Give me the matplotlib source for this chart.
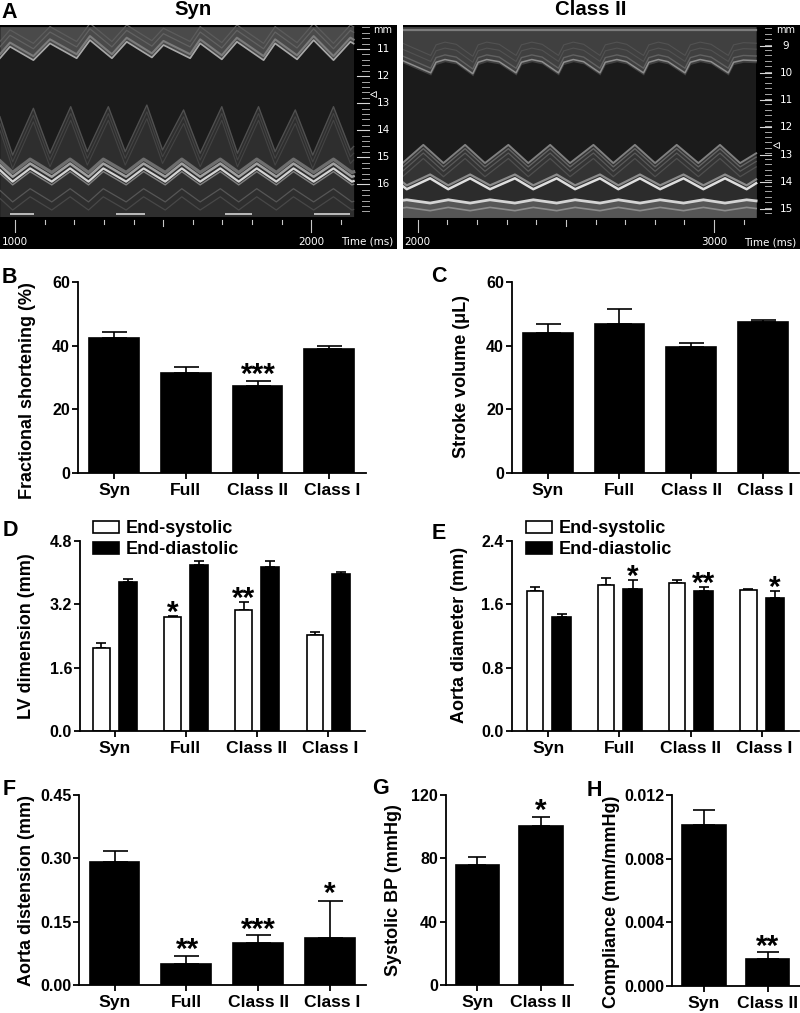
import numpy as np
import matplotlib
matplotlib.use("Agg")
import matplotlib.pyplot as plt
from matplotlib.patches import Patch
from matplotlib.transforms import ScaledTranslation

W, H = 800, 1013
plt.rcParams['font.family'] = ['Liberation Sans', 'DejaVu Sans']
plt.rcParams['font.weight'] = 'bold'
plt.rcParams['mathtext.default'] = 'regular'

four_groups = ["Syn", "Full", "Class II", "Class I"]
two_groups = ["Syn", "Class II"]

# bar heights and tops of the error bars
fs_mean = [42.3, 31.5, 27.3, 38.9]
fs_top = [44.4, 33.4, 28.8, 39.9]
sv_mean = [43.9, 46.7, 39.5, 47.4]
sv_top = [46.8, 51.6, 40.7, 48.0]
lv_sys = [2.10, 2.87, 3.04, 2.43]
lv_sys_top = [2.21, 2.89, 3.25, 2.50]
lv_dia = [3.75, 4.18, 4.14, 3.96]
lv_dia_top = [3.84, 4.29, 4.28, 4.01]
ao_sys = [1.76, 1.84, 1.87, 1.78]
ao_sys_top = [1.815, 1.93, 1.91, 1.79]
ao_dia = [1.44, 1.79, 1.765, 1.68]
ao_dia_top = [1.475, 1.90, 1.815, 1.77]
dist_mean = [0.292, 0.051, 0.099, 0.112]
dist_top = [0.317, 0.069, 0.119, 0.199]
bp_mean = [75.8, 100.4]
bp_top = [80.7, 106.3]
comp_mean = [0.01009, 0.00172]
comp_top = [0.01108, 0.00212]

# M-mode wall traces (time in ms, depth in mm)
syn_ant_ms = [949, 983, 1062, 1118, 1208, 1253, 1327, 1377, 1462, 1501, 1591, 1625, 1698, 1749, 1839, 1878, 1952, 2008, 2075, 2132, 2143]
syn_ant_mm = [11.34, 10.91, 11.41, 10.79, 11.34, 10.67, 11.34, 10.73, 11.31, 10.85, 11.34, 10.79, 11.38, 10.73, 11.41, 10.79, 11.38, 10.67, 11.41, 10.73, 10.80]
syn_post_ms = [949, 992, 1062, 1118, 1188, 1244, 1315, 1372, 1445, 1498, 1569, 1625, 1698, 1751, 1822, 1878, 1946, 2005, 2075, 2132, 2143]
syn_post_mm = [13.50, 14.92, 13.19, 14.85, 13.13, 14.79, 13.13, 14.79, 13.07, 14.73, 13.25, 14.85, 13.13, 14.85, 13.13, 14.79, 13.25, 14.92, 13.13, 14.73, 14.60]
syn_epi_ms = [949, 992, 1051, 1124, 1186, 1248, 1298, 1375, 1434, 1507, 1563, 1625, 1693, 1755, 1816, 1882, 1940, 2008, 2075, 2137, 2143]
syn_epi_mm = [15.47, 15.90, 15.41, 15.90, 15.41, 15.90, 15.41, 15.90, 15.41, 15.90, 15.41, 15.90, 15.41, 15.90, 15.41, 15.90, 15.41, 15.90, 15.41, 15.90, 15.88]
syn_base_start = [983, 1340, 1710, 2010]
syn_base_end = [1063, 1440, 1800, 2130]

cl2_ant_ms = [1949, 2044, 2062, 2092, 2130, 2186, 2204, 2233, 2275, 2332, 2350, 2385, 2420, 2475, 2493, 2525, 2560, 2615, 2633, 2672, 2705, 2762, 2780, 2812, 2845, 2902, 2920, 2953, 2990, 3048, 3066, 3099, 3142]
cl2_ant_mm = [9.62, 10.07, 9.68, 9.58, 9.66, 10.10, 9.68, 9.58, 9.66, 10.07, 9.68, 9.58, 9.66, 10.07, 9.68, 9.58, 9.66, 10.07, 9.68, 9.58, 9.66, 10.07, 9.68, 9.58, 9.66, 10.07, 9.68, 9.58, 9.66, 10.07, 9.68, 9.60, 9.62]
cl2_post_ms = [1949, 2019, 2087, 2160, 2227, 2306, 2373, 2447, 2514, 2593, 2660, 2733, 2801, 2874, 2947, 3020, 3088, 3142]
cl2_post_mm = [13.31, 12.64, 13.31, 12.64, 13.31, 12.64, 13.31, 12.64, 13.31, 12.64, 13.31, 12.64, 13.31, 12.64, 13.31, 12.64, 13.31, 12.95]
cl2_epi_ms = [1949, 1963, 2042, 2103, 2177, 2244, 2328, 2390, 2469, 2531, 2615, 2677, 2750, 2818, 2897, 2964, 3037, 3110, 3142]
cl2_epi_mm = [14.15, 14.27, 13.87, 14.27, 13.87, 14.27, 13.87, 14.27, 13.87, 14.27, 13.87, 14.27, 13.87, 14.27, 13.87, 14.27, 13.87, 14.27, 14.05]
cl2_base_mm = [14.68, 14.66, 14.78, 14.66, 14.78, 14.66, 14.78, 14.66, 14.78, 14.66, 14.78, 14.66, 14.78, 14.66, 14.78, 14.66, 14.78, 14.66, 14.70]


def px_axes(fig, left, right, top, bottom):
    return fig.add_axes([left / W, 1 - bottom / H, (right - left) / W, (bottom - top) / H])


def label(fig, x, y, s, size=13, **kw):
    fig.text(x / W, 1 - y / H, s, fontsize=size, fontweight='bold', **kw)


def bar_axes(fig, box, first, step, ymax, yticks, fmt, names):
    ax = px_axes(fig, *box)
    ax.set_xlim((box[0] - first) / step, (box[1] - first) / step)
    ax.set_ylim(0, ymax)
    ax.set_yticks(yticks)
    ax.set_yticklabels([fmt % t for t in yticks], fontsize=11.5)
    ax.set_xticks(range(len(names)))
    ax.set_xticklabels(names, fontsize=12.6)
    ax.tick_params(axis='both', length=4.2, width=1.3)
    ax.tick_params(axis='x', pad=3)
    ax.tick_params(axis='y', pad=1.5)
    for s in ['top', 'right']:
        ax.spines[s].set_visible(False)
    for s in ['left', 'bottom']:
        ax.spines[s].set_linewidth(1.3)
    if len(names) == 4:
        # the last label sits a little to the right of its tick
        lab = ax.get_xticklabels()[3]
        lab.set_transform(lab.get_transform() + ScaledTranslation(2.5 / 100, 0, fig.dpi_scale_trans))
    return ax


def bars(ax, x, means, tops, width, cap, color='k'):
    x = np.asarray(x, dtype=float)
    means = np.asarray(means)
    up = np.asarray(tops) - means
    ax.errorbar(x, means, yerr=[np.zeros(len(x)), up], fmt='none', ecolor='k',
                elinewidth=1.2, capsize=cap, capthick=1.2, zorder=1)
    ax.bar(x, means, width, color=color, edgecolor='k', linewidth=1.2, zorder=2)


def stars(ax, x, y, s):
    ax.annotate(s, (x, y), xytext=(0, -9.5), textcoords='offset points', ha='center',
                va='baseline', fontsize=21.5, fontweight='bold', annotation_clip=False)


def legend(ax, fig, x, y):
    handles = [Patch(facecolor='w', edgecolor='k', linewidth=1.2, label='End-systolic'),
               Patch(facecolor='k', edgecolor='k', linewidth=1.2, label='End-diastolic')]
    ax.legend(handles=handles, loc='upper left', bbox_to_anchor=(x / W, 1 - y / H),
              bbox_transform=fig.transFigure, frameon=False, fontsize=13, borderpad=0,
              borderaxespad=0, handlelength=1.45, handleheight=0.65, handletextpad=0.35,
              labelspacing=0.24)


def echo_frame(fig, box, xlim, ylim):
    ax = px_axes(fig, *box)
    ax.set_facecolor('k')
    ax.set_xlim(*xlim)
    ax.set_ylim(*ylim)
    ax.set_xticks([])
    ax.set_yticks([])
    for s in ax.spines.values():
        s.set_visible(False)
    return ax


def echo_scale(ax, ruler_x, ruler_mm, mm_labels, mm_x, mm_label_y, times, time_mm, t_end, time_label_x, tri):
    # depth ruler on the right
    for m in np.arange(ruler_mm[0], ruler_mm[1], 0.2):
        ax.plot([ruler_x[1], ruler_x[2]], [m, m], color='#a8a8a8', lw=0.7)
    for m in mm_labels:
        ax.plot([ruler_x[0], ruler_x[2]], [m, m], color='#d8d8d8', lw=0.8)
        ax.text(mm_x, m, str(m), color='w', fontsize=7.5, fontweight='normal', ha='center', va='center', family='DejaVu Sans')
    ax.text(mm_x, mm_label_y, 'mm', color='w', fontsize=7, fontweight='normal', ha='center', va='center', family='DejaVu Sans')
    ax.plot(tri[0], tri[1], marker='<', mfc='none', mec='w', ms=4, mew=0.6)
    # time ruler along the bottom
    t0 = times[0]
    for k, t in enumerate(np.arange(t0, t_end, 100)):
        if k % 10 == 0:
            end = time_mm[2]
        elif k % 5 == 0:
            end = time_mm[1]
        else:
            end = time_mm[0] + 0.15
        ax.plot([t, t], [time_mm[0], end], color='#c8c8c8', lw=0.8)
    for t in times:
        ax.text(t, time_mm[3], str(t), color='w', fontsize=7.5, fontweight='normal', ha='center', va='center', family='DejaVu Sans')
    ax.text(time_label_x, time_mm[3], 'Time (ms)', color='w', fontsize=7.5, fontweight='normal', ha='center', va='center', family='DejaVu Sans')


fig = plt.figure(figsize=(W / 100, H / 100), dpi=100)

# A, Syn
ax = echo_frame(fig, (0, 397, 25, 249), (949.3, 2289.4), (18.39, 10.11))
ax.fill_between([949, 2143], 10.17, 17.19, color='#1b1b1b', lw=0)
ax.fill_between(syn_ant_ms, 10.17, syn_ant_mm, color='#4a4a4a', lw=0)
ax.fill_between(syn_post_ms, syn_post_mm, 17.19, color='#2e2e2e', lw=0)
for off, c, lw in [(-0.62, '#5c5c5c', 0.9), (-0.42, '#626262', 0.9), (-0.15, '#7c7c7c', 1.5), (0, '#a8a8a8', 1.2)]:
    ax.plot(syn_ant_ms, np.array(syn_ant_mm) + off, color=c, lw=lw)
for off, c, lw in [(0.0, '#505050', 1.0), (0.25, '#444444', 0.8), (0.5, '#444444', 0.8)]:
    ax.plot(syn_post_ms, np.minimum(np.array(syn_post_mm) + off, 15.5), color=c, lw=lw)
for off, c, lw in [(-0.34, '#6e6e6e', 2.4), (-0.18, '#a0a0a0', 1.8), (0, '#d4d4d4', 1.6), (0.12, '#808080', 1.0), (0.75, '#565656', 0.9), (1.05, '#484848', 0.9)]:
    ax.plot(syn_epi_ms, np.array(syn_epi_mm) + off, color=c, lw=lw)
ax.hlines([17.08] * 4, syn_base_start, syn_base_end, color='#bcbcbc', lw=1.4)
echo_scale(ax, (2154, 2171, 2194), (10.2, 17.1), [11, 12, 13, 14, 15, 16], 2242, 10.28,
           [1000, 2000], (17.32, 17.55, 17.75, 18.12), 2140, 2188, (2208, 12.67))

# A, Class II
ax = echo_frame(fig, (402.7, 800, 25, 249), (1949.4, 3290), (16.47, 8.23))
ax.fill_between([1949, 3142], 8.29, 15.31, color='#1b1b1b', lw=0)
ax.fill_between(cl2_ant_ms, 8.29, cl2_ant_mm, color='#404040', lw=0)
ax.fill_between(cl2_post_ms, cl2_post_mm, 15.31, color='#343434', lw=0)
ax.fill_between(cl2_epi_ms, cl2_epi_mm, 15.31, color='#2c2c2c', lw=0)
ax.fill_between(cl2_epi_ms, cl2_base_mm, 15.31, color='#565656', lw=0)
ax.plot([1949, 3142], [8.40, 8.40], color='#7c7c7c', lw=1.6)
for off, c, lw in [(-0.72, '#525252', 0.8), (-0.5, '#525252', 0.8), (-0.25, '#626262', 1.0), (-0.08, '#8e8e8e', 1.1)]:
    ax.plot(cl2_ant_ms, np.array(cl2_ant_mm) + off, color=c, lw=lw)
for off, c, lw in [(0, '#808080', 1.4), (0.14, '#646464', 1.0), (0.3, '#5a5a5a', 0.9), (0.5, '#505050', 0.9)]:
    ax.plot(cl2_post_ms, np.array(cl2_post_mm) + off, color=c, lw=lw)
for off, c, lw in [(-0.14, '#8c8c8c', 1.6), (0, '#dedede', 1.8)]:
    ax.plot(cl2_epi_ms, np.array(cl2_epi_mm) + off, color=c, lw=lw)
for off, c, lw in [(0, '#d4d4d4', 2.0), (0.28, '#8c8c8c', 1.2)]:
    ax.plot(cl2_epi_ms, np.array(cl2_base_mm) + off, color=c, lw=lw)
echo_scale(ax, (3155, 3172, 3192), (8.35, 15.2), [9, 10, 11, 12, 13, 14, 15], 3243, 8.41,
           [2000, 3000], (15.40, 15.62, 15.83, 16.23), 3140, 3189, (3208, 12.64))

label(fig, 192.7, 15, 'Syn', size=14.7, ha='center', va='baseline')
label(fig, 590.7, 15, 'Class II', size=14.7, ha='center', va='baseline')

# B
ax = bar_axes(fig, (78, 366, 282, 472.7), 114.2, 71.67, 60, [0, 20, 40, 60], '%d', four_groups)
bars(ax, range(4), fs_mean, fs_top, 0.693, 9)
stars(ax, 2.01, 32.3, '***')

# C
ax = bar_axes(fig, (511.7, 799, 282, 472.7), 547.7, 71.67, 60, [0, 20, 40, 60], '%d', four_groups)
bars(ax, range(4), sv_mean, sv_top, 0.693, 9)

# D
x = np.arange(4)
ax = bar_axes(fig, (80, 365, 540.7, 731), 114.7, 71.1, 4.8, [0.0, 1.6, 3.2, 4.8], '%.1f', four_groups)
bars(ax, x - 0.186, lv_sys, lv_sys_top, 0.23, 3.4, color='w')
bars(ax, x + 0.186, lv_dia, lv_dia_top, 0.26, 3.4)
stars(ax, 1 - 0.186, 3.11, '*')
stars(ax, 2 - 0.186, 3.47, '**')
legend(ax, fig, 93.3, 520)

# E
ax = bar_axes(fig, (511.7, 799, 540.7, 731), 548.3, 71.1, 2.4, [0.0, 0.8, 1.6, 2.4], '%.1f', four_groups)
bars(ax, x - 0.186, ao_sys, ao_sys_top, 0.23, 3.4, color='w')
bars(ax, x + 0.186, ao_dia, ao_dia_top, 0.26, 3.4)
stars(ax, 1 + 0.186, 2.01, '*')
stars(ax, 2 + 0.186, 1.92, '**')
stars(ax, 3 + 0.186, 1.87, '*')
legend(ax, fig, 526.3, 520)

# F
ax = bar_axes(fig, (79.3, 366, 795, 985.3), 114.5, 71.8, 0.45, [0.00, 0.15, 0.30, 0.45], '%.2f', four_groups)
bars(ax, range(4), dist_mean, dist_top, 0.693, 9)
stars(ax, 1.02, 0.0953, '**')
stars(ax, 2.01, 0.144, '***')
stars(ax, 3.0, 0.228, '*')

# G
ax = bar_axes(fig, (446, 573, 795, 985.3), 477.3, 63.7, 120, [0, 40, 80, 120], '%d', two_groups)
bars(ax, range(2), bp_mean, bp_top, 0.68, 6.5)
stars(ax, 1, 113, '*')

# H
ax = bar_axes(fig, (672, 800, 795, 986), 703.8, 63.7, 0.012, [0.000, 0.004, 0.008, 0.012], '%.3f', two_groups)
bars(ax, range(2), comp_mean, comp_top, 0.685, 7.8)
stars(ax, 1, 0.00279, '**')

# y labels, placed by hand like the panels of the original figure
for xp, yp, s in [(28, 390.5, 'Fractional shortening (%)'), (461, 376, 'Stroke volume (\u03bcL)'),
                  (27, 636, 'LV dimension (mm)'), (460, 635, 'Aorta diameter (mm)'),
                  (27, 890, 'Aorta distension (mm)'), (393, 890, 'Systolic BP (mmHg)'),
                  (611.7, 901.7, 'Compliance (mm/mmHg)')]:
    label(fig, xp, yp, s, size=13, rotation=90, ha='center', va='center')

# panel letters
for xp, yp, s in [(1, 18, 'A'), (2, 283, 'B'), (431, 282, 'C'), (3, 536, 'D'),
                  (432, 539, 'E'), (3, 795, 'F'), (372, 794, 'G'), (587, 796, 'H')]:
    label(fig, xp, yp, s, size=15.5, ha='left', va='baseline')

fig.savefig("out.png", dpi=100)
plt.close()
